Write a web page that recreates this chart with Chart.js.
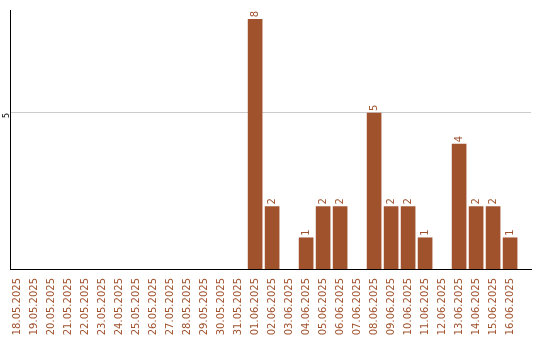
<!DOCTYPE html>
<html>
<head>
<meta charset="utf-8">
<script src="https://cdn.jsdelivr.net/npm/chart.js@4"></script>
<style>
  html, body { margin: 0; padding: 0; background: #fff; }
  #wrap { width: 540px; height: 340px; }
</style>
</head>
<body>
<div id="wrap"><canvas id="myChart" width="540" height="340"></canvas></div>
<script>
const dates = [
  "18.05.2025", "19.05.2025", "20.05.2025", "21.05.2025", "22.05.2025",
  "23.05.2025", "24.05.2025", "25.05.2025", "26.05.2025", "27.05.2025",
  "28.05.2025", "29.05.2025", "30.05.2025", "31.05.2025", "01.06.2025",
  "02.06.2025", "03.06.2025", "04.06.2025", "05.06.2025", "06.06.2025",
  "07.06.2025", "08.06.2025", "09.06.2025", "10.06.2025", "11.06.2025",
  "12.06.2025", "13.06.2025", "14.06.2025", "15.06.2025", "16.06.2025"
];
const counts = [0, 0, 0, 0, 0, 0, 0, 0, 0, 0, 0, 0, 0, 0, 8,
                2, 0, 1, 2, 2, 0, 5, 2, 2, 1, 0, 4, 2, 2, 1];
const yTicks = [5];

const brown = "#a0522d";

// numbers over the bars, turned like the date labels
const valueLabels = {
  id: "valueLabels",
  afterDatasetsDraw(chart) {
    const ctx = chart.ctx;
    const meta = chart.getDatasetMeta(0);
    ctx.save();
    ctx.font = "10px 'DejaVu Sans'";
    ctx.fillStyle = brown;
    ctx.textAlign = "left";
    ctx.textBaseline = "middle";
    meta.data.forEach((bar, i) => {
      if (!counts[i]) return;
      ctx.save();
      ctx.translate(bar.x, bar.y - 2);
      ctx.rotate(-Math.PI / 2);
      ctx.fillText(String(counts[i]), 0, 0);
      ctx.restore();
    });
    ctx.restore();
  }
};

new Chart("myChart", {
  type: "bar",
  data: {
    datasets: [{
      data: counts.map((v, i) => ({ x: i, y: v || null })),
      backgroundColor: brown,
      barThickness: 14
    }]
  },
  options: {
    responsive: false,
    animation: false,
    layout: { padding: { top: 10, right: 9, left: 0, bottom: 0 } },
    plugins: { legend: { display: false }, tooltip: { enabled: false } },
    scales: {
      x: {
        type: "linear",
        offset: false,
        bounds: "data",
        min: -0.42,
        max: 30.23,
        afterBuildTicks: s => { s.ticks = dates.map((_, i) => ({ value: i })); },
        afterFit: s => { s.height = 71; s.paddingLeft = 0; s.paddingRight = 0; },
        grid: { display: false, drawTicks: false, offset: false },
        border: { color: "#000", width: 1 },
        ticks: {
          autoSkip: false,
          minRotation: 90,
          maxRotation: 90,
          padding: 9,
          color: brown,
          font: { family: "DejaVu Sans", size: 10 },
          callback: v => dates[v] ?? ""
        }
      },
      y: {
        min: 0,
        max: 8.3,
        afterBuildTicks: s => { s.ticks = yTicks.map(v => ({ value: v })); },
        afterFit: s => { s.width = 10; s.paddingTop = 0; s.paddingBottom = 0; },
        grid: { color: "#cccccc", drawTicks: false },
        border: { color: "#000", width: 1 },
        ticks: {
          minRotation: 90,
          maxRotation: 90,
          padding: 3,
          color: "#000",
          font: { family: "DejaVu Sans", size: 8 }
        }
      }
    }
  },
  plugins: [valueLabels]
});
</script>
</body>
</html>
